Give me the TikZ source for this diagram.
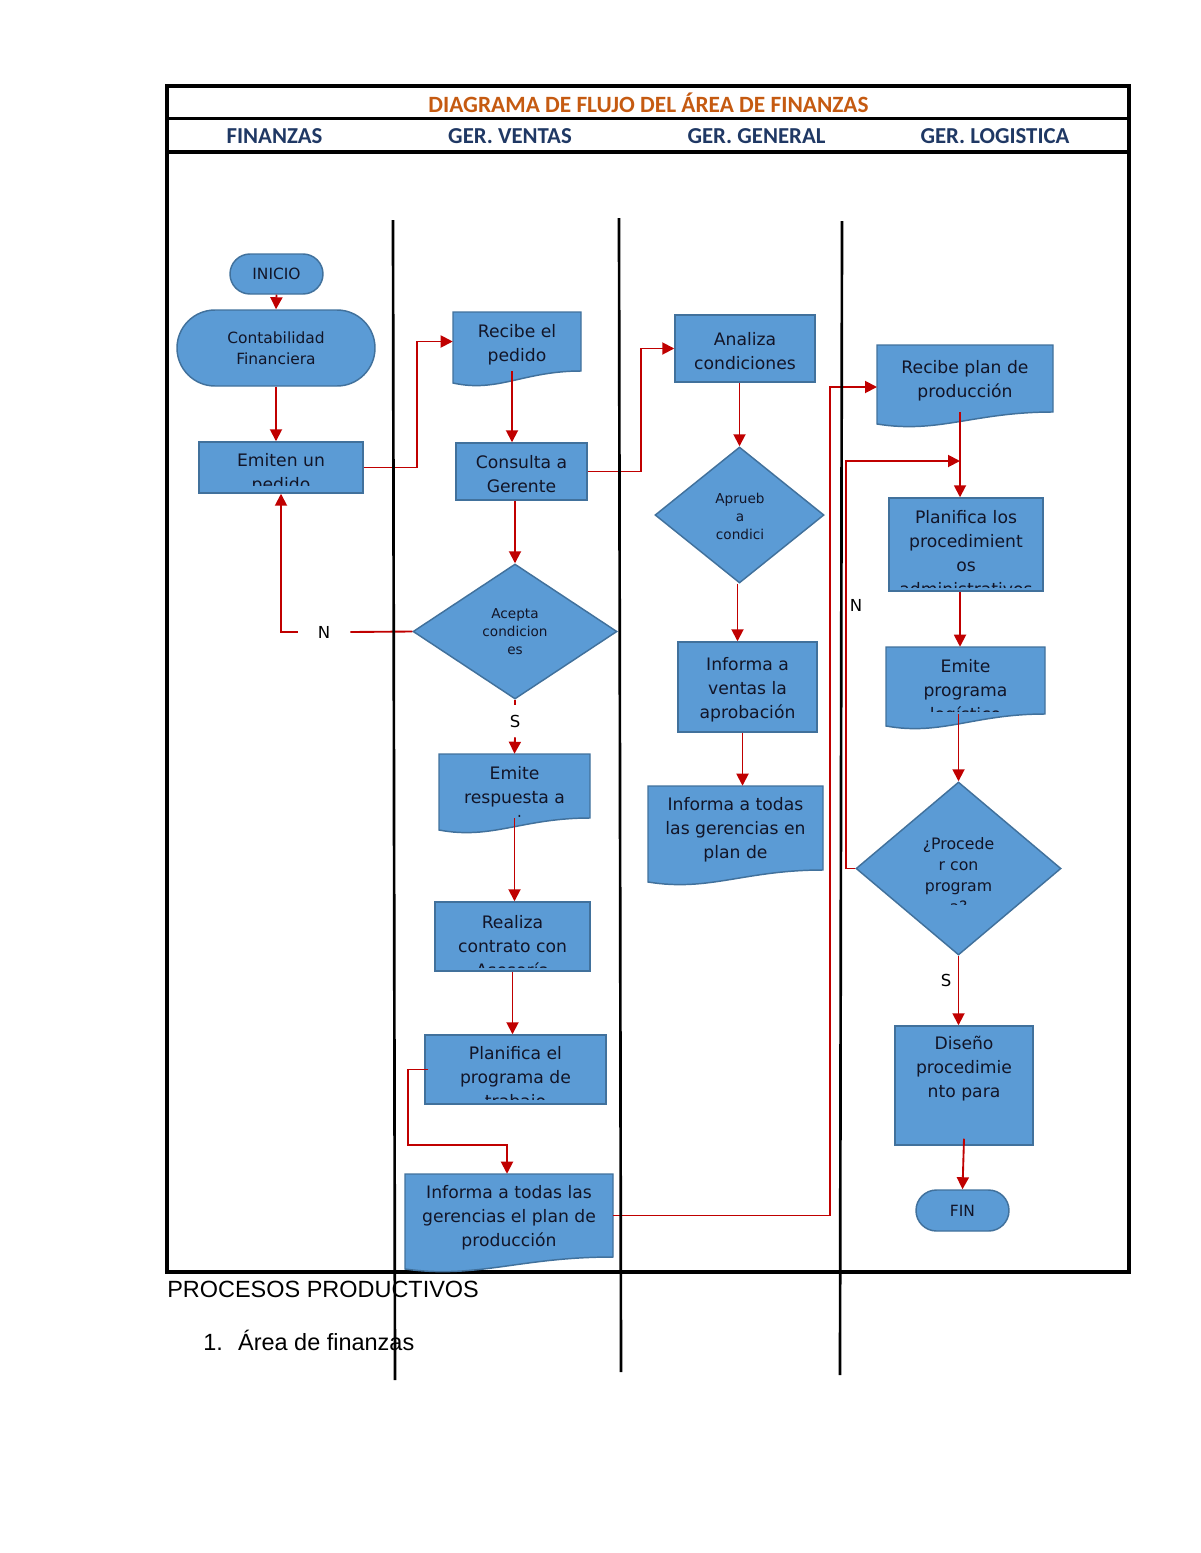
\documentclass[tikz,border=0pt]{standalone}
\usepackage{fontspec}
\setmainfont{DejaVu Sans}
\newfontfamily\carlito{Carlito}
\newfontfamily\arialf{Liberation Sans}
\usetikzlibrary{shapes.geometric,shapes.misc,fit,arrows.meta,calc}
\definecolor{boxfill}{HTML}{5B9BD5}
\definecolor{boxline}{HTML}{41719C}
\definecolor{conred}{HTML}{C00000}
\definecolor{titleor}{HTML}{C55A11}
\definecolor{headnavy}{HTML}{1F3864}
\definecolor{boxtext}{HTML}{121528}
\newcommand\pxu{0.75pt}
\tikzset{
  shapest/.style={fill=boxfill, draw=boxline, line width=1.1pt},
  rectst/.style={shapest, rectangle, inner sep=0},
  termst/.style={shapest, rounded rectangle, inner sep=0, text=boxtext, align=center, font=\fontsize{11.6}{15.75}\selectfont},
  diast/.style={shapest, diamond, inner sep=0},
  anchorbox/.style={rectangle, inner sep=0, draw=none},
  bodytxt/.style={text=boxtext, align=center, inner sep=0, yshift=-2.5*\pxu, font=\fontsize{12.9}{18}\selectfont},
  diatxt/.style={text=boxtext, align=center, inner sep=0, yshift=-1*\pxu, font=\fontsize{10.2}{13.5}\selectfont},
  proctxt/.style={text=boxtext, align=center, inner sep=0, yshift=-1.5*\pxu, font=\fontsize{11.8}{15.75}\selectfont},
  connst/.style={draw=conred, line width=1.4pt},
  arr/.style={connst, -{Triangle[length=9pt,width=9pt]}},
  lane/.style={draw=black, line width=2pt},
  lbl/.style={text=black, inner sep=0, font=\fontsize{12.4}{14}\selectfont},
  headst/.style={text=headnavy, inner sep=0, font=\carlito\bfseries\fontsize{17.1}{20}\selectfont},
}
% rectangle box: name x1 y1 x2 y2
\newcommand\rectbox[5]{\node[rectst, fit={(#2,#3) (#4,#5)}] (#1) {};}
% document box: name x1 y1 x2 y2(right bottom)
\newcommand\docbox[5]{%
  \path[shapest] (#2,#3) -- (#4,#3) -- (#4,#5)
    .. controls ({#4-0.45*(#4-#2)},#5) and ({#2+0.35*(#4-#2)},{#5+22}) .. (#2,{#5+12}) -- cycle;
  \node[anchorbox, fit={(#2,#3) (#4,#5)}] (#1) {};}
% clipped text: [style] name x1 y1 x2 y2 cy text
\newcommand\boxtext[8][bodytxt]{%
  \begin{scope}
    \clip (#3,#4) rectangle (#5,#6);
    \node[#1] (#2) at ({(#3+#5)/2},#7) {#8};
  \end{scope}}

\begin{document}
\begin{tikzpicture}[x=0.75pt, y=-0.75pt]
\useasboundingbox (0,0) rectangle (1200,1553);

% ---------- frame and headings ----------
\draw[line width=3pt] (167,86) rectangle (1129,1272);
\draw[line width=2.4pt] (167,118.5) -- (1129,118.5);
\draw[line width=3pt] (167,151.5) -- (1129,151.5);
\node[text=titleor, inner sep=0, font=\carlito\bfseries\fontsize{17.5}{20}\selectfont] (title) at (648.5,103) {DIAGRAMA DE FLUJO DEL ÁREA DE FINANZAS};
\node[headst] (h1) at (274.5,136) {FINANZAS};
\node[headst] (h2) at (510,136) {GER. VENTAS};
\node[headst] (h3) at (756.5,136) {GER. GENERAL};
\node[headst] (h4) at (995,136) {GER. LOGISTICA};

% ---------- FINANZAS ----------
\node[termst, minimum width={93*\pxu}, minimum height={40*\pxu}] (inicio) at (276.5,274) {INICIO};
\node[termst, minimum width={198*\pxu}, minimum height={76*\pxu}] (conta) at (276,348) {Contabilidad\\Financiera};
\rectbox{emiten}{199}{442}{363}{493}
\boxtext{t-emiten}{199}{442}{363}{485}{471}{Emiten un\\pedido}

% ---------- GER. VENTAS ----------
\docbox{recibe}{453}{312}{581}{371}
\boxtext{t-recibe}{453}{312}{581}{380}{342}{Recibe el\\pedido}
\rectbox{consulta}{456}{443}{587}{500}
\boxtext{t-consulta}{456}{443}{587}{500}{471.5}{Consulta a\\Gerente}
\node[diast, minimum width={204*\pxu}, minimum height={135*\pxu}] (acepta) at (515,631.5) {};
\node[diatxt] (t-acepta) at (515,631) {Acepta\\condicion\\es};
\docbox{emresp}{439}{754}{590}{818}
\boxtext{t-emresp}{439}{754}{590}{816}{795}{Emite\\respuesta a\\ventas}
\rectbox{realiza}{435}{902}{590}{971}
\boxtext{t-realiza}{435}{902}{590}{967}{944}{Realiza\\contrato con\\Asesoría}
\rectbox{planprog}{425}{1035}{606}{1104}
\boxtext{t-planprog}{425}{1035}{606}{1099}{1076}{Planifica el\\programa de\\trabajo}
\docbox{informa1}{405}{1174}{613}{1257}
\boxtext{t-informa1}{405}{1174}{613}{1265}{1215}{Informa a todas las\\gerencias el plan de\\producción}

% ---------- GER. GENERAL ----------
\rectbox{analiza}{675}{315}{815}{382}
\boxtext{t-analiza}{675}{315}{815}{382}{348.5}{Analiza\\condiciones}
\node[diast, minimum width={169*\pxu}, minimum height={136*\pxu}] (aprueba) at (739.5,515) {};
\node[diatxt] (t-aprueba) at (740,515) {Aprueb\\a\\condici};
\rectbox{infventas}{678}{642}{817}{732}
\boxtext{t-infventas}{678}{642}{817}{732}{687}{Informa a\\ventas la\\aprobación}
\docbox{inftodas}{648}{786}{823}{870}
\boxtext{t-inftodas}{648}{786}{823}{880}{827}{Informa a todas\\las gerencias en\\plan de}

% ---------- GER. LOGISTICA ----------
\docbox{recplan}{877}{345}{1053}{412}
\boxtext{t-recplan}{877}{345}{1053}{420}{378.5}{Recibe plan de\\producción}
\rectbox{planlos}{889}{498}{1043}{591}
\boxtext{t-planlos}{889}{498}{1043}{587}{551}{Planifica los\\procedimient\\os\\administrativos}
\docbox{emprog}{886}{647}{1045}{714}
\boxtext{t-emprog}{886}{647}{1045}{711}{689}{Emite\\programa\\logístico}
\node[diast, minimum width={205*\pxu}, minimum height={173*\pxu}] (proceder) at (958.5,868.5) {};
\boxtext[proctxt]{t-proceder}{856}{782}{1061}{904}{873.5}{¿Procede\\r con\\program\\a?}
\rectbox{diseno}{895}{1026}{1033}{1145}
\boxtext{t-diseno}{895}{1026}{1033}{1145}{1066.5}{Diseño\\procedimie\\nto para}
\node[termst, minimum width={93*\pxu}, minimum height={41*\pxu}] (fin) at (962.5,1210.5) {FIN};

% ---------- labels ----------
\node[lbl, minimum width={52*\pxu}] (n1) at (324,632) {N};
\node[lbl, minimum height={32*\pxu}] (s1) at (515,721) {S};
\node[lbl] (n2) at (856,605) {N};
\node[lbl] (s2) at (946,980) {S};
\coordinate (c11) at (507,1145);
\coordinate (c12) at (877,387);
\coordinate (join) at (960,461);

% ---------- connectors ----------
\draw[arr] (inicio.south) -- (conta.north);
\draw[arr] (conta.south) -- (conta.south |- emiten.north);
\draw[arr] (emiten.east) -- ++(53,0) |- (recibe.west);
\draw[arr] ([xshift=-5*\pxu]recibe.south) -- ([xshift=-5*\pxu]recibe.south |- consulta.north);
\draw[arr] (consulta.east) -- ++(53,0) |- (analiza.west);
\draw[arr] (acepta.north |- consulta.south) -- (acepta.north);
\draw[connst] (acepta.west) -- (n1.east);
\draw[arr] (n1.west) -| (emiten.south);
\draw[connst] (acepta.south) -- (s1.north);
\draw[arr] (s1.south) -- (emresp.north);
\draw[arr] (emresp.south) -- (emresp.south |- realiza.north);
\draw[arr] (realiza.south) -- (realiza.south |- planprog.north);
\draw[arr] ([xshift=4*\pxu]planprog.west) -- ++(-20,0) |- (c11) -- (c11 |- informa1.north);
\draw[arr] (informa1.east) -- ++(217,0) |- (c12);
\draw[arr] (aprueba.north |- analiza.south) -- (aprueba.north);
\draw[arr] ([xshift=-2*\pxu]aprueba.south) -- ([xshift=-2*\pxu]aprueba.south |- infventas.north);
\draw[arr] ([xshift=-5*\pxu]infventas.south) -- ([xshift=-5*\pxu]infventas.south |- inftodas.north);
\draw[arr] ([xshift=-5*\pxu]recplan.south) -- ([xshift=-5*\pxu]recplan.south |- planlos.north);
\draw[arr] (proceder.west) -- ++(-9,0) |- (join);
\draw[arr] ([xshift=-6*\pxu]planlos.south) -- ([xshift=-6*\pxu]planlos.south |- emprog.north);
\draw[arr] (proceder.north |- emprog.south) -- (proceder.north);
\draw[arr] (proceder.south) -- (proceder.south |- diseno.north);
\draw[arr] ([yshift=7*\pxu]diseno.south) -- (fin.north);

% ---------- texts below ----------
\node[anchor=west, inner sep=0, font=\arialf\fontsize{17.6}{20}\selectfont] (proc) at (167,1289) {PROCESOS PRODUCTIVOS};
\node[anchor=west, inner sep=0, font=\arialf\fontsize{17.6}{20}\selectfont] (area) at (203,1340) {1.\hspace{11.5pt}Área de finanzas};

% ---------- lane lines ----------
\draw[lane] (393,220) -- (395,1380);
\draw[lane] (619,218) -- (621,1372);
\draw[lane] (842,221) -- (840,1375);
\end{tikzpicture}
\end{document}
